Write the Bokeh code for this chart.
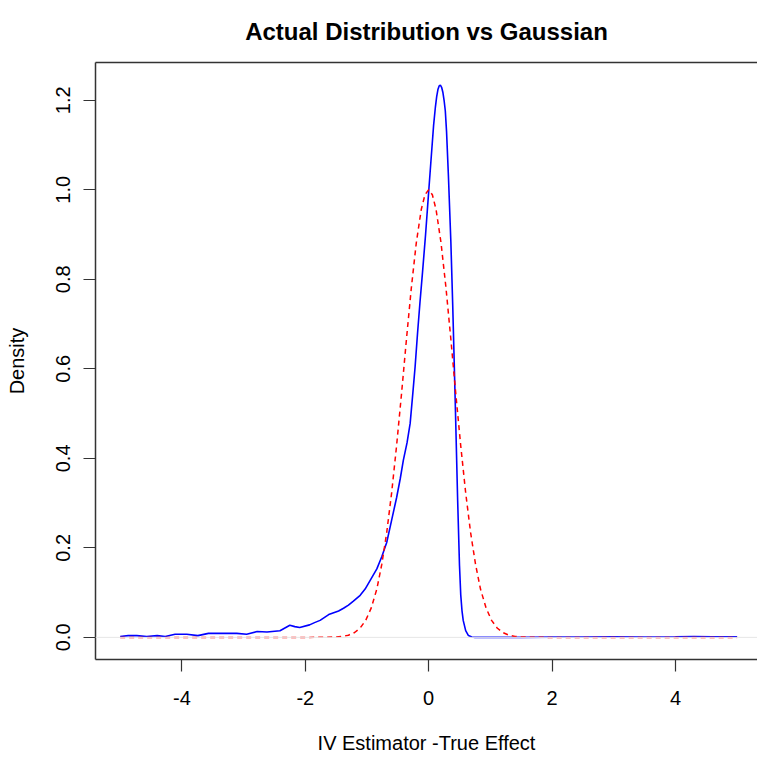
from bokeh.plotting import figure
from bokeh.models import Range1d, FixedTicker, Span, LinearAxis
from bokeh.embed import file_html
from bokeh.resources import INLINE

# ---- data ----
actual_x = [-5.0, -4.87, -4.73, -4.57, -4.40, -4.27, -4.11, -3.92, -3.74, -3.57, -3.38, -3.11, -2.95,
            -2.78, -2.62, -2.41, -2.25, -2.17, -2.09, -1.93, -1.85, -1.76, -1.62, -1.54, -1.46, -1.38,
            -1.30, -1.22, -1.11, -1.03, -0.95, -0.84, -0.76, -0.68, -0.60, -0.52, -0.46, -0.41, -0.35,
            -0.30, -0.26, -0.22, -0.18, -0.14, -0.10, -0.05, 0.0, 0.04, 0.08, 0.11, 0.13, 0.15, 0.17,
            0.19, 0.21, 0.23, 0.25, 0.27, 0.29, 0.32, 0.36, 0.39, 0.43, 0.47, 0.50, 0.52, 0.54, 0.56,
            0.60, 0.645, 0.70, 0.75, 1.0, 1.5, 2.0, 2.5, 3.0, 3.5, 4.0, 4.3, 4.6, 5.0]
actual_y = [0.002, 0.004, 0.004, 0.002, 0.004, 0.002, 0.007, 0.007, 0.004, 0.009, 0.009, 0.009, 0.007,
            0.013, 0.012, 0.015, 0.027, 0.024, 0.022, 0.028, 0.033, 0.038, 0.051, 0.055, 0.059, 0.065,
            0.072, 0.081, 0.094, 0.108, 0.127, 0.153, 0.180, 0.212, 0.262, 0.312, 0.355, 0.396, 0.435,
            0.478, 0.540, 0.604, 0.680, 0.750, 0.815, 0.900, 0.995, 1.070, 1.144, 1.186, 1.208, 1.224,
            1.232, 1.234, 1.229, 1.218, 1.200, 1.176, 1.130, 1.032, 0.883, 0.742, 0.530, 0.306, 0.160,
            0.095, 0.060, 0.038, 0.015, 0.004, 0.001, 0.0, 0.0, 0.0, 0.0005, 0.0008, 0.0012, 0.001,
            0.0015, 0.002, 0.0015, 0.0015]

gauss_x = [-5.0, -3.0, -2.0, -1.7, -1.5, -1.4, -1.3, -1.2, -1.11, -1.02, -0.93, -0.84, -0.76, -0.68,
           -0.60, -0.52, -0.44, -0.36, -0.28, -0.20, -0.12, -0.06, 0.0, 0.06, 0.12, 0.20, 0.28, 0.36,
           0.44, 0.52, 0.60, 0.68, 0.76, 0.84, 0.93, 1.02, 1.11, 1.2, 1.3, 1.4, 1.5, 1.7, 2.0, 3.0, 5.0]
gauss_y = [0.0, 0.0, 0.0, 0.0001, 0.0009, 0.0021, 0.0049, 0.011, 0.021, 0.038, 0.066, 0.108, 0.163,
           0.234, 0.323, 0.428, 0.544, 0.666, 0.782, 0.882, 0.956, 0.989, 1.0, 0.989, 0.956, 0.882,
           0.782, 0.666, 0.544, 0.428, 0.323, 0.234, 0.163, 0.108, 0.066, 0.038, 0.021, 0.011, 0.0049,
           0.0021, 0.0009, 0.0001, 0.0, 0.0, 0.0]

x_ticks = [-4, -2, 0, 2, 4]
x_tick_labels = ["-4", "-2", "0", "2", "4"]
y_ticks = [0.0, 0.2, 0.4, 0.6, 0.8, 1.0, 1.2]
y_tick_labels = ["0.0", "0.2", "0.4", "0.6", "0.8", "1.0", "1.2"]

title_text = "Actual Distribution vs Gaussian"
x_label = "IV Estimator -True Effect"
y_label = "Density"

FONT = "Liberation Sans"

p = figure(width=757, height=758, output_backend="svg", toolbar_location=None,
           x_range=Range1d(-5.4, 5.33), y_range=Range1d(-0.0494, 1.2844),
           min_border_left=95, min_border_right=0, min_border_top=62, min_border_bottom=99,
           title=title_text, x_axis_label=x_label, y_axis_label=y_label)

p.background_fill_color = "white"
p.border_fill_color = "white"
p.outline_line_color = None
p.xgrid.visible = False
p.ygrid.visible = False

p.title.align = "center"
p.title.vertical_align = "top"
p.title.text_font = FONT
p.title.text_font_size = "24px"
p.title.text_font_style = "bold"
p.title.text_color = "black"
p.title.standoff = 31

xax = p.below[0]
yax = p.left[0]

# top border line of the box (no ticks, no labels)
top = LinearAxis(ticker=FixedTicker(ticks=[]), major_tick_line_color=None, minor_tick_line_color=None,
                 major_label_text_font_size="0px", axis_line_color="#333333", axis_line_width=1.5,
                 major_label_standoff=0, major_tick_out=0, major_tick_in=0)
p.add_layout(top, "above")

for ax in (xax, yax):
    ax.axis_line_color = "#333333"
    ax.axis_line_width = 1.5
    ax.major_tick_line_color = "#333333"
    ax.major_tick_line_width = 1.2
    ax.major_tick_out = 12
    ax.major_tick_in = 0
    ax.minor_tick_line_color = None
    ax.major_label_text_font = FONT
    ax.major_label_text_font_size = "20px"
    ax.major_label_text_color = "black"
    ax.axis_label_text_font = FONT
    ax.axis_label_text_font_size = "20px"
    ax.axis_label_text_font_style = "normal"
    ax.axis_label_text_color = "black"

xax.ticker = FixedTicker(ticks=x_ticks)
xax.major_label_overrides = {t: l for t, l in zip(x_ticks, x_tick_labels)}
xax.major_label_standoff = 19
xax.axis_label_standoff = 24

yax.ticker = FixedTicker(ticks=y_ticks)
yax.major_label_overrides = {t: l for t, l in zip(y_ticks, y_tick_labels)}
yax.major_label_orientation = "vertical"
yax.major_label_standoff = 13
yax.axis_label_standoff = 26

p.add_layout(Span(location=0, dimension="width", line_color="#e6e6e6", line_width=1))

p.line(actual_x, actual_y, line_color="#0000ff", line_width=1.6)
p.line(gauss_x, gauss_y, line_color="#ff0000", line_width=1.5, line_dash="5 4")

open("out.html", "w").write(file_html(p, INLINE))
